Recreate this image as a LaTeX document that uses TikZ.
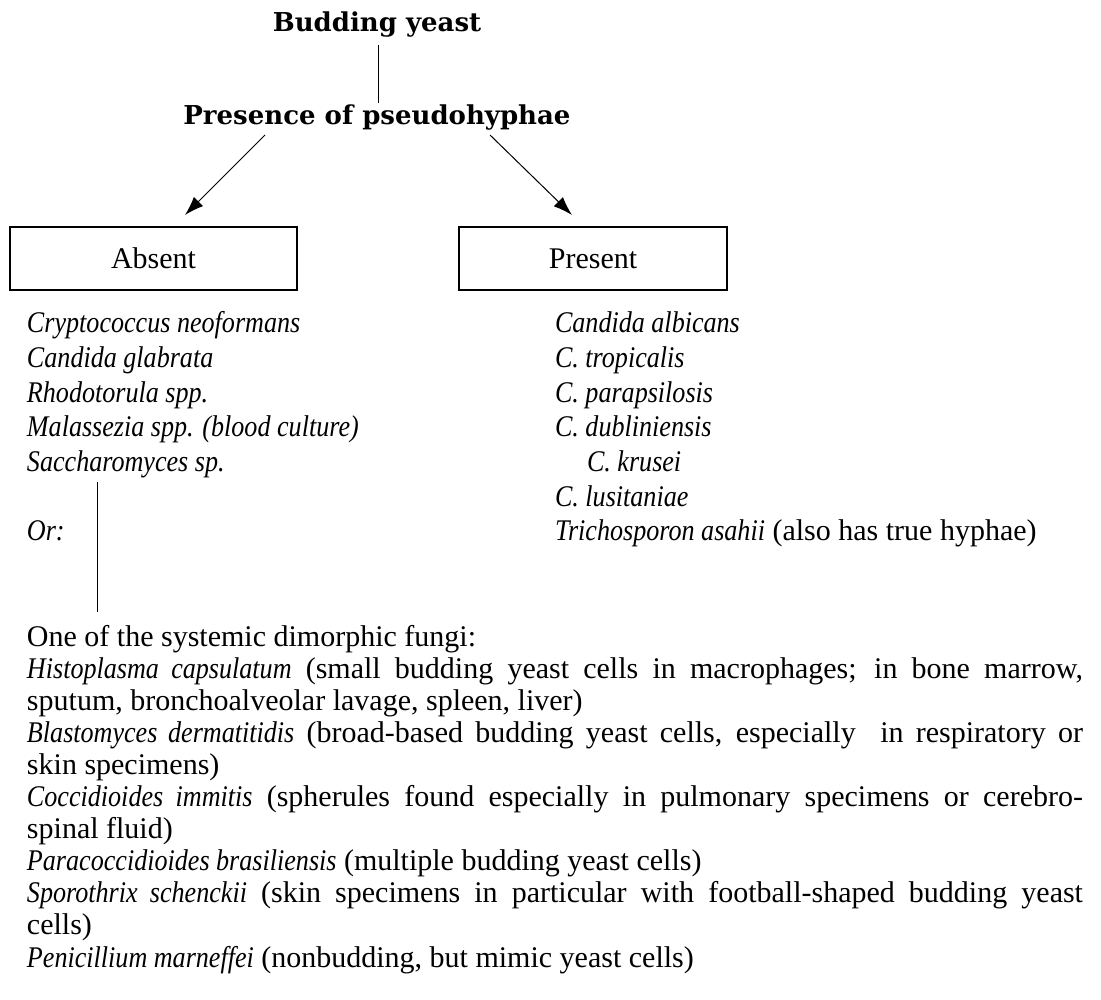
\documentclass[tikz,border=0pt]{standalone}
\usepackage{fontspec}
\setmainfont{Liberation Serif}[ItalicFeatures={FakeStretch=0.87}]
\newfontfamily\headfont{DejaVu Serif}
\usetikzlibrary{arrows.meta}
\begin{document}
\begin{tikzpicture}[x=1pt,y=-1pt,
  every node/.style={inner sep=0pt, outer sep=0pt},
  head/.style={font=\headfont\bfseries\fontsize{26}{30}\selectfont, anchor=base},
  body/.style={font=\fontsize{30}{34}\selectfont, anchor=base west},
  boxnode/.style={draw, line width=1.2pt, minimum height=63pt, font=\fontsize{30}{34}\selectfont},
  conn/.style={line width=1pt},
  arr/.style={line width=1pt, -{Latex[length=19pt,width=13pt]}}]
\useasboundingbox[fill=white] (0,0) rectangle (1101,1000);

% headings
\node[head] (budding) at (377,32) {Budding yeast};
\node[head] (presence) at (377,125) {Presence of pseudohyphae};
\coordinate (v1) at (378,45);
\coordinate (v2) at (378,103);
\draw[conn] (v1) -- (v2);

% boxes
\node[boxnode, minimum width=287pt] (absent) at (153.5,258.5) {Absent};
\node[boxnode, minimum width=268pt] (present) at (593,258.5) {Present};

\coordinate (a1s) at (265,135);
\coordinate (a1e) at (185,215);
\coordinate (a2s) at (490,135);
\coordinate (a2e) at (572,215);
\draw[arr] (a1s) -- (a1e);
\draw[arr] (a2s) -- (a2e);

% left list
\node[body] (l1) at (27,333.0) {\textit{Cryptococcus neoformans}};
\node[body] (l2) at (27,367.6) {\textit{Candida glabrata}};
\node[body] (l3) at (27,402.2) {\textit{Rhodotorula spp.}};
\node[body] (l4) at (27,436.8) {\textit{Malassezia spp. (blood culture)}};
\node[body] (l5) at (27,471.4) {\textit{Saccharomyces sp.}};
\node[body] (orx) at (27,540.6) {\textit{Or:}};

% right list
\node[body] (r1) at (555,333.0) {\textit{Candida albicans}};
\node[body] (r2) at (555,367.6) {\textit{C. tropicalis}};
\node[body] (r3) at (555,402.2) {\textit{C. parapsilosis}};
\node[body] (r4) at (555,436.8) {\textit{C. dubliniensis}};
\node[body] (r5) at (587,471.4) {\textit{C. krusei}};
\node[body] (r6) at (555,506.0) {\textit{C. lusitaniae}};
\node[body] (r7) at (555,540.6) {\textit{Trichosporon asahii} (also has true hyphae)};

% vertical connector
\coordinate (o1) at (97,482);
\coordinate (o2) at (97,612);
\draw[conn] (o1) -- (o2);

% bottom paragraph
\node[body] (b1) at (27,646.0) {One of the systemic dimorphic fungi:};
\node[body] (b2) at (27,678.1) {\makebox[1056pt][s]{\textit{Histoplasma capsulatum} (small budding yeast cells in macrophages; in bone marrow,}};
\node[body] (b3) at (27,710.2) {sputum, bronchoalveolar lavage, spleen, liver)};
\node[body] (b4) at (27,742.3) {\makebox[1056pt][s]{\textit{Blastomyces dermatitidis} (broad-based budding yeast cells, especially\ \ in respiratory or}};
\node[body] (b5) at (27,774.4) {skin specimens)};
\node[body] (b6) at (27,806.5) {\makebox[1056pt][s]{\textit{Coccidioides immitis} (spherules found especially in pulmonary specimens or cerebro-}};
\node[body] (b7) at (27,838.6) {spinal fluid)};
\node[body] (b8) at (27,870.7) {\textit{Paracoccidioides brasiliensis} (multiple budding yeast cells)};
\node[body] (b9) at (27,902.8) {\makebox[1056pt][s]{\textit{Sporothrix schenckii} (skin specimens in particular with football-shaped budding yeast}};
\node[body] (b10) at (27,934.9) {cells)};
\node[body] (b11) at (27,967.0) {\textit{Penicillium marneffei} (nonbudding, but mimic yeast cells)};
\end{tikzpicture}
\end{document}
